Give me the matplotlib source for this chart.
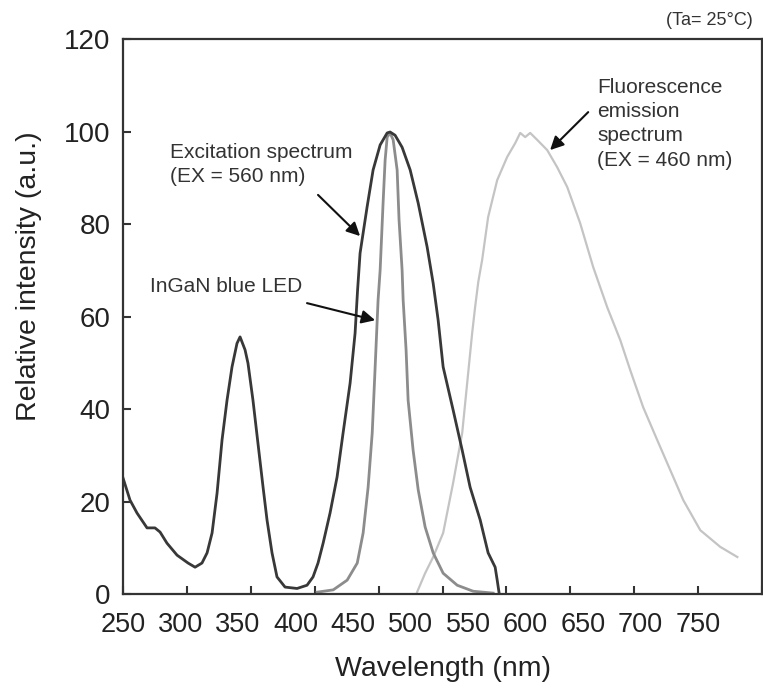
import matplotlib
matplotlib.use('Agg')
import matplotlib.pyplot as plt
import numpy as np

plt.rcParams['font.family'] = ['Liberation Sans', 'DejaVu Sans']

# Excitation spectrum (EX = 560 nm)
exc_wl = [250, 255.5, 261, 268.8, 275, 279, 284.4, 292.3, 300.9, 306.4, 311.8, 315.8,
          319.7, 323.6, 327.5, 331.4, 335.3, 339.2, 341.6, 345.5, 347.8, 351.7, 355.6,
          359.6, 362.7, 366.6, 370.5, 376.8, 386.2, 394, 398.7, 402.6, 406.6, 412,
          417.5, 422.2, 427.7, 431.6, 433.5, 435.5, 441, 445.7, 451.2, 456.7, 459, 462.9,
          468.4, 474.7, 481, 488, 492.7, 496.6, 500.5, 508.3, 515.4, 521.6, 529.5,
          535.7, 541.2, 542.8, 544.3]
exc_int = [25.1, 20.3, 17.5, 14.3, 14.3, 13.4, 11.0, 8.4, 6.7, 5.8, 6.7, 8.9,
           13.2, 21.8, 33.3, 41.9, 49.1, 54.2, 55.6, 52.8, 49.9, 41.9, 32.6,
           23.1, 16.0, 8.9, 3.7, 1.5, 1.2, 1.9, 3.7, 6.7, 11.0, 17.5,
           25.3, 34.8, 45.6, 56.4, 65.5, 73.7, 83.7, 91.7, 97.1, 99.7, 99.9, 99.2,
           96.6, 91.7, 84.5, 75.0, 67.2, 59.2, 49.1, 39.8, 31.1, 23.1, 16.0,
           8.9, 5.8, 3.0, 0.2]

# InGaN blue LED
led_wl = [401.9, 414.5, 425.4, 433.3, 437.9, 441.8, 445, 447.3, 449.6, 451.2, 453.5,
          455.1, 456.7, 459, 461.4, 464.5, 466, 468.4, 469.2, 471.5, 473.1, 477,
          481, 486.4, 492.7, 500.5, 511.5, 524, 539.6]
led_int = [0.4, 0.9, 3.0, 6.7, 13.2, 23.1, 34.8, 49.1, 63.6, 70.0, 84.5,
           93.8, 98.8, 99.7, 98.2, 91.7, 80.9, 70.0, 63.6, 52.8, 41.9, 31.1,
           22.5, 14.5, 8.9, 4.5, 1.9, 0.6, 0.2]

# Fluorescence emission spectrum (EX = 460 nm)
emi_wl = [480.1, 486.4, 492.7, 500.5, 508.3, 515.4, 519.3, 523.2, 525.5, 528, 531, 535.7,
          542.8, 550.6, 556.9, 560.8, 564.7, 568.6, 574.1, 581.9, 589.7, 597.6,
          607.7, 617.9, 628.9, 639.1, 646.9, 657, 668, 678.2, 688.4, 701.7, 717.3, 730.7]
emi_int = [0.4, 4.5, 8.0, 13.2, 24.0, 34.8, 45.6, 56.4, 62.0, 67.5, 72.2, 81.5,
           89.5, 94.5, 97.5, 99.7, 98.8, 99.7, 98.2, 96.0, 92.3, 88.0,
           80.2, 70.7, 62.0, 54.9, 48.4, 40.4, 33.3, 26.8, 20.3, 13.8, 10.2, 8.0]

x_tick_labels = ['250', '300', '350', '400', '450', '500', '550', '600', '650', '700', '750']

fig = plt.figure(figsize=(7.63, 6.9), dpi=100)
ax = fig.add_axes([0.1612, 0.1391, 0.8375, 0.8043])

ax.plot(emi_wl, emi_int, color='#c4c4c4', lw=1.6)
ax.plot(led_wl, led_int, color='#8c8c8c', lw=2.0)
ax.plot(exc_wl, exc_int, color='#383838', lw=2.0)

ax.set_xlim(250, 750)
ax.set_ylim(0, 120)
ax.set_yticks(np.arange(0, 121, 20))

# tick marks every 50 nm, labels placed as in the original figure
ax.xaxis.remove_overlapping_locs = False
ax.set_xticks(np.arange(250, 751, 50))
ax.set_xticklabels([])
ax.set_xticks(np.linspace(250, 700, len(x_tick_labels)), labels=x_tick_labels, minor=True)
ax.tick_params(axis='x', which='minor', length=0, pad=13, labelsize=19.5, labelcolor='#222222')
ax.tick_params(axis='x', which='major', direction='in', length=6, width=1.5, color='#333333')
ax.tick_params(axis='y', direction='in', length=6, width=1.5, color='#333333',
               pad=9, labelsize=20, labelcolor='#222222')

for s in ax.spines.values():
    s.set_color('#333333')
    s.set_linewidth(1.6)

ax.set_xlabel('Wavelength (nm)', fontsize=20.5, color='#222222')
ax.xaxis.set_label_coords(0.5, -0.112)
ax.set_ylabel('Relative intensity (a.u.)', fontsize=20.5, color='#222222')
ax.yaxis.set_label_coords(-0.127, 0.572)

arrow = dict(arrowstyle='-|>', color='#111111', lw=1.5, mutation_scale=20, shrinkA=0, shrinkB=0)
txt = dict(fontsize=15, color='#333333', ha='left', va='top', linespacing=1.35)

ax.annotate('', xy=(435.5, 77.4), xytext=(402.6, 86.3), arrowprops=arrow)
ax.text(286.8, 97.5, 'Excitation spectrum\n(EX = 560 nm)', **txt)

ax.annotate('', xy=(447.3, 59.2), xytext=(394, 62.9), arrowprops=arrow)
ax.text(271.1, 68.5, 'InGaN blue LED', **txt)

ax.annotate('', xy=(584.2, 96.0), xytext=(614, 104.2), arrowprops=arrow)
ax.text(621, 111.6, 'Fluorescence\nemission\nspectrum\n(EX = 460 nm)', **txt)

fig.text(0.987, 0.983, '(Ta= 25°C)', fontsize=13, color='#333333', ha='right', va='top')

fig.savefig('out.png', dpi=100)
